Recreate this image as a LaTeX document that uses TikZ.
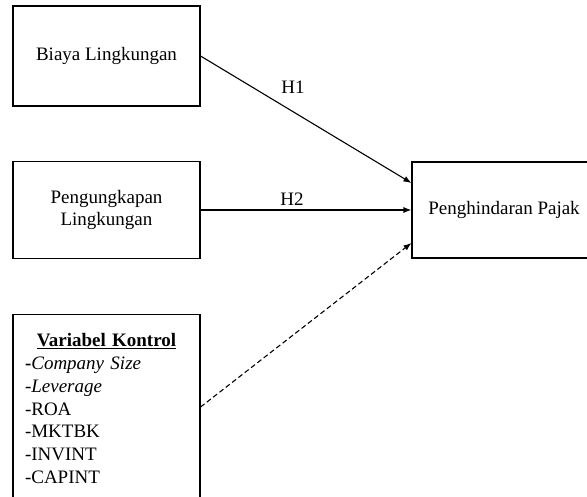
\documentclass[tikz,border=0pt]{standalone}
\usepackage{fontspec}
\setmainfont{Liberation Serif}
\usetikzlibrary{arrows.meta}

\begin{document}
\begin{tikzpicture}[x=1pt,y=-1pt,
  box/.style={draw,line width=1.1pt,minimum width=187pt,align=center,font=\fontsize{19}{22.8}\selectfont},
  link/.style={line width=1.1pt,-{Latex[length=8pt,width=6pt]}},
  lbl/.style={font=\fontsize{19}{22.8}\selectfont}]
\useasboundingbox (0,0) rectangle (587,497);
\node[box,minimum height=100pt] (biaya) at (106.5,56) {Biaya Lingkungan};
\node[box,minimum height=97pt] (ungkap) at (106.5,210) {Pengungkapan\\Lingkungan};
\node[box,anchor=north,text width=163pt,align=left,inner xsep=12pt,inner ysep=19pt] (kontrol) at (106.5,314)
  {\hfill\underline{\textbf{Variabel Kontrol}}\hfill\null\\
   \textbf{-}\textit{Company Size}\\
   \textit{-Leverage}\\
   -ROA\\
   -MKTBK\\
   -INVINT\\
   -CAPINT};
\node[box,minimum width=184pt,minimum height=96pt] (pajak) at (504,210) {Penghindaran Pajak};
\coordinate (kx) at (0,407);
\draw[link] (biaya.east) -- ([yshift=27pt]pajak.west);
\draw[link] (ungkap.east) -- (pajak.west);
\draw[link,dash pattern=on 5pt off 3pt] (kontrol.east |- kx) -- ([yshift=-33pt]pajak.west);
\node[lbl] (hA) at (293,87) {H1};
\node[lbl] (hB) at (292,199) {H2};
\end{tikzpicture}
\end{document}
